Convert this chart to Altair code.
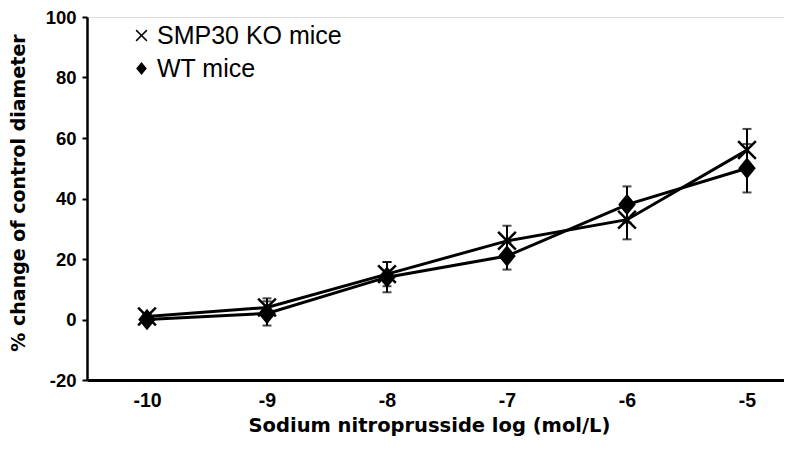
import altair as alt
import pandas as pd

# ---- data ----
doses = [-10, -9, -8, -7, -6, -5]
ko_mean = [1, 4, 15, 26, 33, 56]
ko_err = [1, 3, 4, 5, 6.5, 7]
wt_mean = [0, 2, 14, 21, 38, 50]
wt_err = [1, 4, 5, 4.5, 6, 8]
series_names = ["SMP30 KO mice", "WT mice"]
x_ticks = [-10, -9, -8, -7, -6, -5]
y_ticks = [-20, 0, 20, 40, 60, 80, 100]

rows = []
for name, means, errs in [(series_names[0], ko_mean, ko_err), (series_names[1], wt_mean, wt_err)]:
    for d, m, e in zip(doses, means, errs):
        rows.append({"series": name, "dose": d, "val": m, "lo": m - e, "hi": m + e})
df = pd.DataFrame(rows)

FONT = "Liberation Sans"
TFONT = "DejaVu Sans"
W, H = 697, 363

x_enc = alt.X(
    "dose:Q",
    scale=alt.Scale(domain=[-10.5, -10.5 + W / 120.0], nice=False, zero=False),
    axis=alt.Axis(
        values=x_ticks, ticks=False, tickSize=0, grid=False,
        labelExpr="'' + datum.value", labelFont=FONT, labelFontSize=19.5,
        labelFontWeight="bold", labelColor="black", labelPadding=11,
        domainColor="black", domainWidth=3,
        title="Sodium nitroprusside log (mol/L)", titleFont=TFONT,
        titleFontSize=19.5, titleFontWeight="bold", titleColor="black",
        titleX=342, titleY=45, titleAlign="center", titleBaseline="middle",
    ),
)
y_scale = alt.Scale(domain=[-20, 100], nice=False, zero=False)
y_axis = alt.Axis(
    values=y_ticks, grid=False, tickSize=5, tickWidth=2, tickColor="black",
    labelExpr="'' + datum.value", labelFont=FONT, labelFontSize=18.5,
    labelFontWeight="bold", labelColor="black", labelPadding=6,
    domainColor="black", domainWidth=2.5,
    title="% change of control diameter", titleFont=TFONT, titleFontSize=19,
    titleFontWeight="bold", titleColor="black",
    titleX=-69, titleY=H / 2 - 6, titleAngle=270, titleAlign="center", titleBaseline="middle",
)

base = alt.Chart(df)

err_rule = base.mark_rule(color="black", strokeWidth=2).encode(
    x=x_enc, y=alt.Y("lo:Q", scale=y_scale, axis=y_axis), y2="hi:Q"
)
cap_hi = base.mark_tick(color="black", thickness=2, size=9, orient="horizontal").encode(
    x="dose:Q", y="hi:Q"
)
cap_lo = base.mark_tick(color="black", thickness=2, size=9, orient="horizontal").encode(
    x="dose:Q", y="lo:Q"
)
lines = base.mark_line(color="black", strokeWidth=3).encode(
    x="dose:Q", y="val:Q", detail="series:N"
)

# filled polygon "x" (so it renders by fill in both plot and legend)
a = 0.18
X_PATH = (
    f"M{-1+a},-1L0,{-a}L{1-a},-1L1,{-1+a}L{a},0L1,{1-a}L{1-a},1L0,{a}"
    f"L{-1+a},1L-1,{1-a}L{-a},0L-1,{-1+a}Z"
)
D_PATH = "M0,-1.1L0.9,0L0,1.1L-0.9,0Z"

points = base.mark_point(filled=True, fill="black", strokeWidth=0, size=380, opacity=1).encode(
    x="dose:Q",
    y="val:Q",
    shape=alt.Shape(
        "series:N",
        scale=alt.Scale(domain=series_names, range=[X_PATH, D_PATH]),
        legend=alt.Legend(
            title=None, orient="none", legendX=42, legendY=6, padding=0,
            labelFont=FONT, labelFontSize=25, labelColor="black", labelOffset=3,
            labelLimit=500, rowPadding=7, symbolSize=140, symbolFillColor="black",
            symbolStrokeWidth=0,
        ),
    ),
)

chart = (
    alt.layer(err_rule, cap_hi, cap_lo, lines, points)
    .properties(
        width=W, height=H,
        autosize=alt.AutoSizeParams(type="none"),
        padding={"left": 79, "top": 9, "right": 0, "bottom": 61},
    )
    .configure_view(stroke=None)
    .configure(background="white")
)

chart.save("out.html", embed_options={"renderer": "svg", "actions": False})
